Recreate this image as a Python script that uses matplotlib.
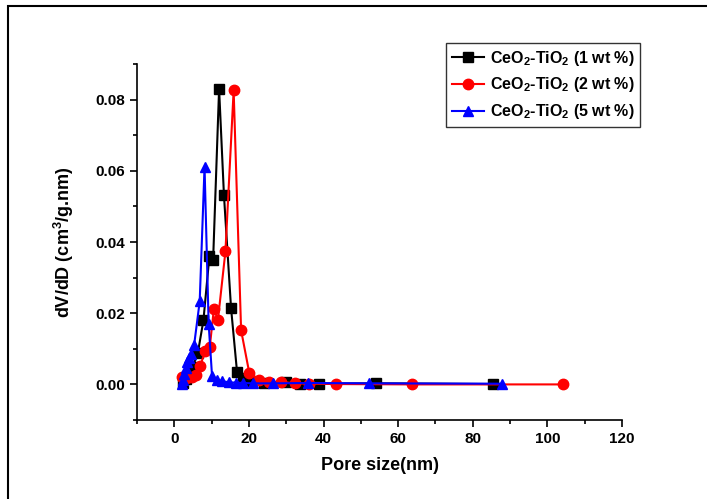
import matplotlib
matplotlib.use("Agg")
import matplotlib.pyplot as plt
from matplotlib.patches import Rectangle
from matplotlib.ticker import MultipleLocator

plt.rcParams['font.family'] = ['Liberation Sans', 'DejaVu Sans']
plt.rcParams['font.weight'] = 'bold'
plt.rcParams['mathtext.fontset'] = 'custom'
plt.rcParams['mathtext.rm'] = 'Liberation Sans:bold'
plt.rcParams['mathtext.bf'] = 'Liberation Sans:bold'
plt.rcParams['mathtext.default'] = 'bf'

# pore size distribution
x_1wt = [2.2, 3.0, 3.9, 4.9, 6.3, 7.8, 9.4, 10.4, 12.0, 13.3, 15.2, 16.8,
         18.5, 20.2, 24.0, 30.0, 33.6, 38.8, 54.1, 85.5]
y_1wt = [0.0005, 0.0015, 0.0030, 0.0048, 0.0088, 0.0180, 0.0360, 0.0350,
         0.0830, 0.0532, 0.0215, 0.0036, 0.0018, 0.0010, 0.0003, 0.0007,
         0.0002, 0.0002, 0.0003, 0.0001]

x_2wt = [2.0, 2.6, 3.2, 3.9, 4.7, 5.7, 6.9, 8.3, 9.5, 10.6, 11.7, 13.7,
         15.9, 17.9, 20.1, 22.8, 25.5, 28.6, 32.4, 36.2, 43.4, 63.6, 104.2]
y_2wt = [0.0020, 0.0022, 0.0018, 0.0020, 0.0022, 0.0027, 0.0052, 0.0093,
         0.0105, 0.0212, 0.0182, 0.0374, 0.0826, 0.0152, 0.0032, 0.0013,
         0.0008, 0.0007, 0.0003, 0.0002, 0.0001, 0.0000, 0.0000]

x_5wt = [2.1, 2.3, 2.6, 3.0, 3.4, 3.9, 4.5, 5.3, 6.8, 8.1, 9.2, 10.1, 11.5,
         12.9, 14.6, 16.4, 18.5, 21.0, 26.4, 35.8, 52.1, 87.7]
y_5wt = [0.0002, 0.0012, 0.0030, 0.0045, 0.0062, 0.0074, 0.0086, 0.0110,
         0.0233, 0.0611, 0.0170, 0.0025, 0.0012, 0.0009, 0.0006, 0.0005,
         0.0004, 0.0003, 0.0003, 0.0004, 0.0003, 0.0002]

labels = [r'CeO$_2$-TiO$_2$ (1 wt %)',
          r'CeO$_2$-TiO$_2$ (2 wt %)',
          r'CeO$_2$-TiO$_2$ (5 wt %)']

fig = plt.figure(figsize=(7.07, 4.99), dpi=100)
ax = fig.add_axes([0.1938, 0.1583, 0.686, 0.7134])

ax.plot(x_1wt, y_1wt, '-s', color='black', lw=1.5, ms=6.5, label=labels[0])
ax.plot(x_2wt, y_2wt, '-o', color='red', lw=1.5, ms=7.5, label=labels[1])
ax.plot(x_5wt, y_5wt, '-^', color='blue', lw=1.5, ms=7.5, label=labels[2])

ax.set_xlim(-10, 120)
ax.set_ylim(-0.01, 0.09)
ax.xaxis.set_major_locator(MultipleLocator(20))
ax.xaxis.set_minor_locator(MultipleLocator(10))
ax.yaxis.set_major_locator(MultipleLocator(0.02))
ax.yaxis.set_minor_locator(MultipleLocator(0.01))
ax.set_yticks([0.0, 0.02, 0.04, 0.06, 0.08])
ax.set_yticklabels(['0.00', '0.02', '0.04', '0.06', '0.08'])

for s in ['top', 'right']:
    ax.spines[s].set_visible(False)
for s in ['left', 'bottom']:
    ax.spines[s].set_linewidth(1.2)

ax.tick_params(which='both', direction='out', width=1.2, labelsize=11)
ax.tick_params(which='major', length=5)
ax.tick_params(which='minor', length=3)

ax.set_xlabel('Pore size(nm)', fontsize=13, fontweight='bold', labelpad=8)
ax.set_ylabel(r'dV/dD (cm$^3$/g.nm)', fontsize=13, fontweight='bold', labelpad=14)

leg = fig.legend(loc='upper left', bbox_to_anchor=(0.631, 0.914),
                 fontsize=11.5, frameon=True, fancybox=False, borderpad=0.35,
                 handlelength=2.0, handletextpad=0.4, labelspacing=0.5,
                 borderaxespad=0)
leg.get_frame().set_edgecolor('black')
leg.get_frame().set_linewidth(1.0)

frame = Rectangle((0.0113, -0.2), 1.2, 1.188, transform=fig.transFigure,
                  fill=False, edgecolor='black', lw=1.5, clip_on=False)
fig.patches.append(frame)

fig.savefig('out.png', dpi=100)
